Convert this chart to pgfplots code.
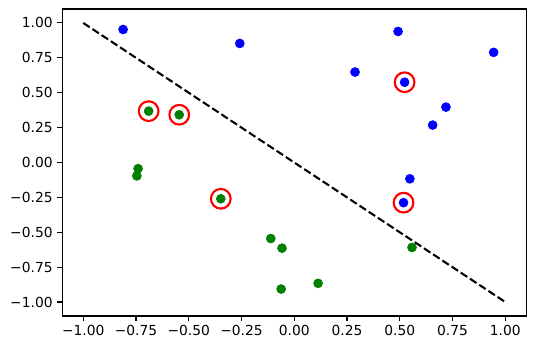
\documentclass[border=0pt]{standalone}
\usepackage{fontspec}
\setmainfont{DejaVu Sans}
\usepackage{pgfplots}
\pgfplotsset{compat=1.18}
\definecolor{mplgreen}{rgb}{0,0.5,0}
\begin{document}
\begin{tikzpicture}
\begin{axis}[
  name=main,
  scale only axis,
  width=349pt, height=230.8pt,
  xmin=-1.1, xmax=1.1, ymin=-1.1, ymax=1.1,
  axis line style={line width=0.83pt},
  tick align=outside,
  major tick length=3.6pt,
  tick style={line width=0.83pt, black},
  xtick pos=lower, ytick pos=left,
  xtick={-1,-0.75,-0.5,-0.25,0,0.25,0.5,0.75,1},
  ytick={-1,-0.75,-0.5,-0.25,0,0.25,0.5,0.75,1},
  xticklabels={−1.00,−0.75,−0.50,−0.25,0.00,0.25,0.50,0.75,1.00},
  yticklabels={−1.00,−0.75,−0.50,−0.25,0.00,0.25,0.50,0.75,1.00},
  ticklabel style={font=\fontsize{10.4}{12}\selectfont},
  clip=false,
]
\addplot[black, line width=1.56pt, dash pattern=on 5.8pt off 2.5pt] coordinates {(-1,1) (1,-1)};
\addplot[only marks, mark=*, mark size=3.4pt, color=blue, mark options={fill=blue, draw=blue}] coordinates {
(-0.811,0.953) (-0.258,0.853) (0.288,0.648) (0.492,0.939) (0.523,0.575)
(0.719,0.397) (0.656,0.268) (0.945,0.789) (0.548,-0.117) (0.518,-0.288)
};
\addplot[only marks, mark=*, mark size=3.4pt, color=mplgreen, mark options={fill=mplgreen, draw=mplgreen}] coordinates {
(-0.690,0.368) (-0.545,0.342) (-0.740,-0.044) (-0.746,-0.096) (-0.348,-0.260)
(-0.111,-0.545) (-0.058,-0.614) (-0.062,-0.907) (0.113,-0.866) (0.558,-0.609)
};
\addplot[only marks, mark=o, mark size=7.4pt, red, mark options={line width=1.6pt, draw=red, fill=none}] coordinates {
(-0.690,0.368) (-0.545,0.342) (-0.348,-0.260) (0.523,0.575) (0.518,-0.288)
};
\end{axis}
\pgfresetboundingbox
\path[use as bounding box] ([shift={(-46.7pt,-25.7pt)}]main.south west) rectangle ([shift={(8pt,6.75pt)}]main.north east);
\end{tikzpicture}
\end{document}
